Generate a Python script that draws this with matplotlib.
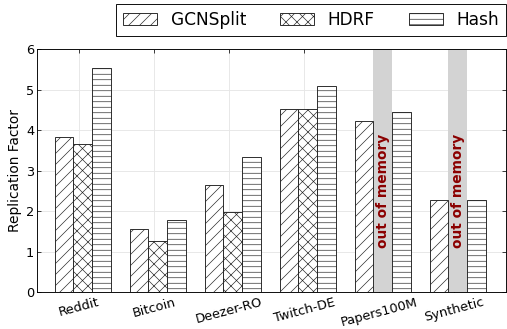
import numpy as np
import matplotlib
matplotlib.use("Agg")
import matplotlib.pyplot as plt

# replication factor per dataset
datasets = ['Reddit', 'Bitcoin', 'Deezer-RO', 'Twitch-DE', 'Papers100M', 'Synthetic']
gcnsplit = [3.84, 1.56, 2.64, 4.53, 4.24, 2.29]
hdrf = [3.65, 1.27, 1.98, 4.53, np.nan, np.nan]   # nan = out of memory
hash_rf = [5.53, 1.78, 3.33, 5.09, 4.46, 2.29]

DPI = 66
plt.rcParams['hatch.linewidth'] = 0.7
plt.rcParams['font.family'] = 'DejaVu Sans'

fig = plt.figure(figsize=(507 / DPI, 329 / DPI), dpi=DPI)
ax = fig.add_axes([37 / 507, 1 - 292.3 / 329, 469 / 507, (292.3 - 49.3) / 329])

ind = np.arange(len(datasets))
width = 0.25
offsets = [-0.33, -0.08, 0.17]
ymax = 6

b1 = ax.bar(ind + offsets[0], gcnsplit, width, align='edge', color='white',
            edgecolor='#222222', linewidth=1.0, hatch='//', label='GCNSplit', zorder=2)
hd = np.array(hdrf)
ok = ~np.isnan(hd)
b2 = ax.bar(ind[ok] + offsets[1], hd[ok], width, align='edge', color='white',
            edgecolor='#222222', linewidth=1.0, hatch='xx', label='HDRF', zorder=2)
b3 = ax.bar(ind + offsets[2], hash_rf, width, align='edge', color='white',
            edgecolor='#222222', linewidth=1.0, hatch='--', label='Hash', zorder=2)

# grey band where HDRF ran out of memory
for i in ind[~ok]:
    ax.bar(i + offsets[1], ymax, width, align='edge', color='#d3d3d3',
           linewidth=0, zorder=1)
    ax.text(i + offsets[1] + width / 2, 2.5, 'out of memory', rotation=90,
            ha='center', va='center', color='#8b0000', fontsize=15,
            fontweight='bold', zorder=3)

ax.set_xlim(-0.564, 5.689)
ax.set_ylim(0, ymax)
ax.set_xticks(ind)
ax.set_xticklabels(datasets, rotation=15, fontsize=14)
ax.set_yticks(range(0, 7))
ax.tick_params(axis='y', labelsize=14, pad=3)
ax.tick_params(direction='in', top=True, right=True, length=4, width=0.8)
ax.set_ylabel('Replication Factor', fontsize=15)
ax.grid(True, color='#e6e6e6', linewidth=1.0)
ax.set_axisbelow(True)
for s in ax.spines.values():
    s.set_linewidth(1.0)

fig.legend(handles=[b1, b2, b3], ncol=3, fontsize=18.6, loc='lower left',
           bbox_to_anchor=(116 / 507, 1 - 36 / 329), borderaxespad=0,
           fancybox=False, edgecolor='black', framealpha=1)

fig.savefig('out.png', dpi=DPI)
